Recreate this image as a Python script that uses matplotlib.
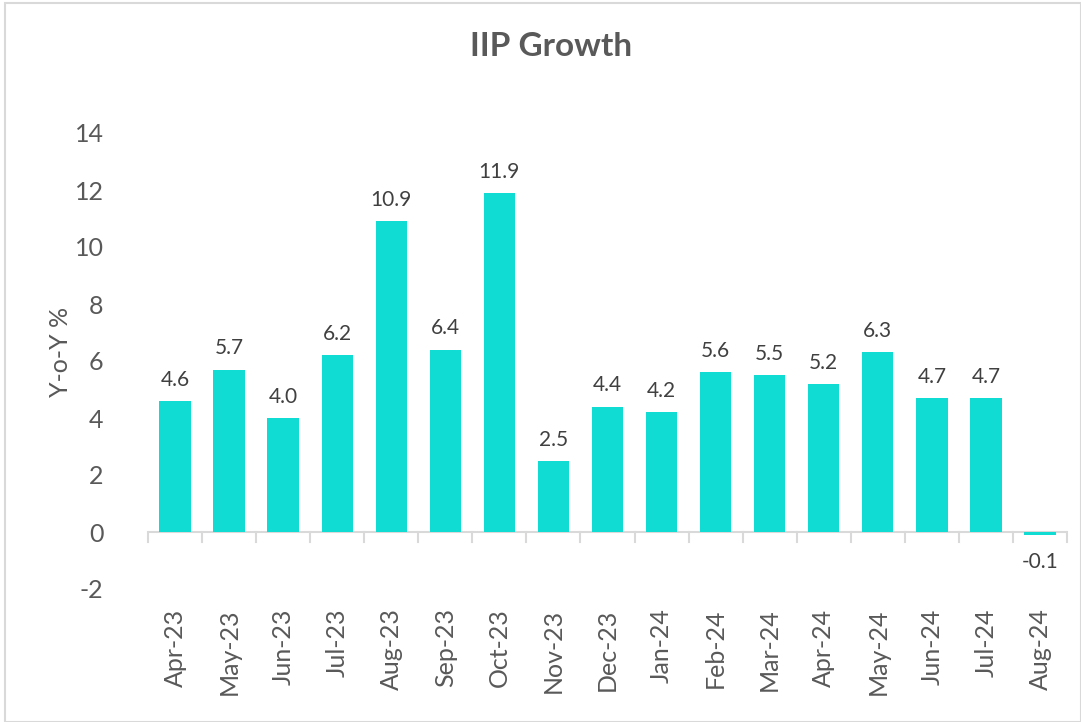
import matplotlib
matplotlib.use("Agg")
import matplotlib.pyplot as plt
from matplotlib.patches import Rectangle
import numpy as np

months = ["Apr-23", "May-23", "Jun-23", "Jul-23", "Aug-23", "Sep-23", "Oct-23", "Nov-23",
          "Dec-23", "Jan-24", "Feb-24", "Mar-24", "Apr-24", "May-24", "Jun-24", "Jul-24", "Aug-24"]
growth = [4.6, 5.7, 4.0, 6.2, 10.9, 6.4, 11.9, 2.5, 4.4, 4.2, 5.6, 5.5, 5.2, 6.3, 4.7, 4.7, -0.1]
yticks = [-2, 0, 2, 4, 6, 8, 10, 12, 14]

plt.rcParams['font.family'] = ['Lato', 'DejaVu Sans']
txt = '#595959'
bar_color = '#10DCD4'

fig = plt.figure(figsize=(10.81, 7.22), dpi=100)
ax = fig.add_axes([148/1081, 1-589/722, (1067-148)/1081, (589-133)/722])

x = np.arange(len(months))
ax.bar(x, growth, width=0.58, color=bar_color, zorder=3)
for xi, v in zip(x, growth):
    if v >= 0:
        ax.annotate(f"{v:.1f}", (xi, v), xytext=(0, 8), textcoords='offset points',
                    ha='center', va='bottom', fontsize=15, color='#404040')
    else:
        ax.annotate(f"{v:.1f}", (xi, v), xytext=(0, -12), textcoords='offset points',
                    ha='center', va='top', fontsize=15, color='#404040')

ax.set_xlim(-0.5, len(months) - 0.5)
ax.set_ylim(-2, 14)
ax.set_yticks(yticks)
ax.set_yticklabels([str(t) for t in yticks], fontsize=18, color=txt)
ax.tick_params(axis='y', length=0, pad=32)

ax.set_xticks(x)
ax.set_xticklabels(months, rotation=90, fontsize=18, color=txt)
ax.tick_params(axis='x', which='major', length=0, pad=14)

for s in ['top', 'right', 'left', 'bottom']:
    ax.spines[s].set_visible(False)
ax.axhline(0, color='#D9D9D9', lw=1.5, zorder=2)
for b in np.arange(-0.5, len(months)):
    ax.plot([b, b], [0, -0.35], color='#D9D9D9', lw=1.5, clip_on=False, zorder=2)

ax.set_ylabel("Y-o-Y %", fontsize=18, color=txt, labelpad=0)
ax.yaxis.set_label_coords(-76/919, 0.52)

fig.text(551/1081, 1-47/722, "IIP Growth", ha='center', va='center', fontsize=24,
         fontweight='bold', color=txt)

fig.patches.append(Rectangle((5/1081, 0), 1 - 5/1081, 1 - 3/722, transform=fig.transFigure,
                             fill=False, edgecolor='#D9D9D9', lw=1.5))

fig.savefig("out.png", dpi=100)
